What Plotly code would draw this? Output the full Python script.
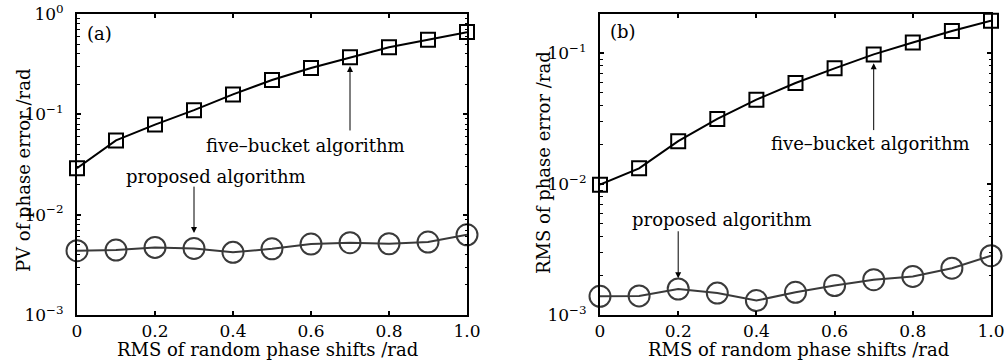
import numpy as np
import plotly.graph_objects as go

x_vals = [0, 0.1, 0.2, 0.3, 0.4, 0.5, 0.6, 0.7, 0.8, 0.9, 1.0]

pv_five_bucket = [0.029, 0.055, 0.079, 0.11, 0.158, 0.22, 0.29, 0.37, 0.466, 0.555, 0.66]
pv_proposed = [0.00437, 0.00444, 0.00472, 0.00461, 0.00421, 0.00457, 0.0051, 0.00525, 0.00513, 0.00533, 0.0063]

rms_five_bucket = [0.0099, 0.0132, 0.0213, 0.0315, 0.0442, 0.0593, 0.0767, 0.098, 0.121, 0.148, 0.177]
rms_proposed = [0.00139, 0.0014, 0.00158, 0.00147, 0.00129, 0.00149, 0.00168, 0.00186, 0.00197, 0.00228, 0.00284]

x_ticks = [0, 0.2, 0.4, 0.6, 0.8, 1.0]
x_ticktext = ["0", "0.2", "0.4", "0.6", "0.8", "1.0"]
y_ticks = [1e-3, 1e-2, 1e-1, 1e0]
y_ticktext = ["10<sup>\u22123</sup>", "10<sup>\u22122</sup>", "10<sup>\u22121</sup>", "10<sup>0</sup>"]

FONT = "DejaVu Serif"
minor_vals = [k * 10.0 ** e for e in range(-3, 0) for k in range(2, 10)]

W, H = 1008, 364
T, B = 14, 49

fig = go.Figure()

sq = dict(symbol="square-open", size=14, color="black", line=dict(width=2, color="black"))
ci = dict(symbol="circle-open", size=21, color="#3a3a3a", line=dict(width=2, color="#3a3a3a"))

fig.add_trace(go.Scatter(x=x_vals, y=pv_five_bucket, mode="lines+markers", xaxis="x", yaxis="y",
                         line=dict(color="black", width=2), marker=sq, cliponaxis=False, showlegend=False))
fig.add_trace(go.Scatter(x=x_vals, y=pv_proposed, mode="lines+markers", xaxis="x", yaxis="y",
                         line=dict(color="#3a3a3a", width=2), marker=ci, cliponaxis=False, showlegend=False))
fig.add_trace(go.Scatter(x=x_vals, y=rms_five_bucket, mode="lines+markers", xaxis="x2", yaxis="y2",
                         line=dict(color="black", width=2), marker=sq, cliponaxis=False, showlegend=False))
fig.add_trace(go.Scatter(x=x_vals, y=rms_proposed, mode="lines+markers", xaxis="x2", yaxis="y2",
                         line=dict(color="#3a3a3a", width=2), marker=ci, cliponaxis=False, showlegend=False))

textfont = dict(family=FONT, size=18, color="black")
tickfont = dict(family=FONT, size=17, color="black")

def xaxis(domain, anchor):
    return dict(domain=domain, anchor=anchor, range=[0, 1], tickvals=x_ticks, ticktext=x_ticktext,
                ticks="inside", ticklen=4, tickwidth=1.5, tickcolor="black",
                showline=True, linewidth=2, linecolor="black", mirror="ticks",
                showgrid=False, zeroline=False, tickfont=tickfont, automargin=False,
                ticklabeloverflow="allow")

def yaxis(anchor, rng):
    return dict(domain=[0, 1], anchor=anchor, type="log", range=rng, tickvals=y_ticks, ticktext=y_ticktext,
                ticks="inside", ticklen=4, tickwidth=1.5, tickcolor="black",
                minor=dict(tickvals=minor_vals, ticks="inside", ticklen=2.5, tickwidth=1, tickcolor="black", showgrid=False),
                showline=True, linewidth=2, linecolor="black", mirror="ticks",
                showgrid=False, zeroline=False, tickfont=tickfont, automargin=False,
                ticklabelstandoff=8, ticklabeloverflow="allow")

fig.update_layout(
    width=W, height=H,
    margin=dict(l=0, r=0, t=T, b=B),
    paper_bgcolor="white", plot_bgcolor="white",
    font=dict(family=FONT, size=18, color="black"),
    xaxis=xaxis([77 / W, 467 / W], "y"),
    yaxis=yaxis("x", [-3, 0]),
    xaxis2=xaxis([600 / W, 991 / W], "y2"),
    yaxis2=yaxis("x2", [-3, -0.7]),
)

arrow = dict(showarrow=True, arrowhead=2, arrowsize=1.2, arrowwidth=1, arrowcolor="black")

def paper_x(px):
    return px / W

def paper_y(py):
    return (H - B - py) / (H - B - T)

centered = dict(xanchor="center", yanchor="middle", showarrow=False, font=textfont)

annotations = [
    # axis titles
    dict(text="PV of phase error /rad", x=paper_x(23), y=paper_y(171), xref="paper", yref="paper",
         textangle=-90, **centered),
    dict(text="RMS of phase error /rad", x=paper_x(543), y=paper_y(163), xref="paper", yref="paper",
         textangle=-90, **centered),
    dict(text="RMS of random phase shifts /rad", x=paper_x(267), y=paper_y(349), xref="paper", yref="paper",
         **centered),
    dict(text="RMS of random phase shifts /rad", x=paper_x(798), y=paper_y(349), xref="paper", yref="paper",
         **centered),
    # panel (a)
    dict(text="(a)", x=0.02, y=-0.19, xref="x", yref="y", xanchor="left", yanchor="middle", showarrow=False, font=textfont),
    dict(text="five\u2013bucket algorithm", x=0.586, y=np.log10(0.0494), xref="x", yref="y", **centered),
    dict(text="proposed algorithm", x=0.357, y=np.log10(0.0239), xref="x", yref="y", **centered),
    dict(text="", x=0.7, y=np.log10(0.303), ax=0.7, ay=np.log10(0.0667), xref="x", yref="y", axref="x", ayref="y", **arrow),
    dict(text="", x=0.3, y=np.log10(0.00656), ax=0.3, ay=np.log10(0.0197), xref="x", yref="y", axref="x", ayref="y", **arrow),
    # panel (b)
    dict(text="(b)", x=0.02, y=-0.83, xref="x2", yref="y2", xanchor="left", yanchor="middle", showarrow=False, font=textfont),
    dict(text="five\u2013bucket algorithm", x=0.693, y=np.log10(0.0203), xref="x2", yref="y2", **centered),
    dict(text="proposed algorithm", x=0.313, y=np.log10(0.00535), xref="x2", yref="y2", **centered),
    dict(text="", x=0.7, y=np.log10(0.084), ax=0.7, ay=np.log10(0.0252), xref="x2", yref="y2", axref="x2", ayref="y2", **arrow),
    dict(text="", x=0.2, y=np.log10(0.00191), ax=0.2, ay=np.log10(0.00448), xref="x2", yref="y2", axref="x2", ayref="y2", **arrow),
]
fig.update_layout(annotations=annotations)

fig.write_html("out.html", config={"displayModeBar": False},
               post_script="document.body.style.margin='0px';document.body.style.overflow='hidden';")
